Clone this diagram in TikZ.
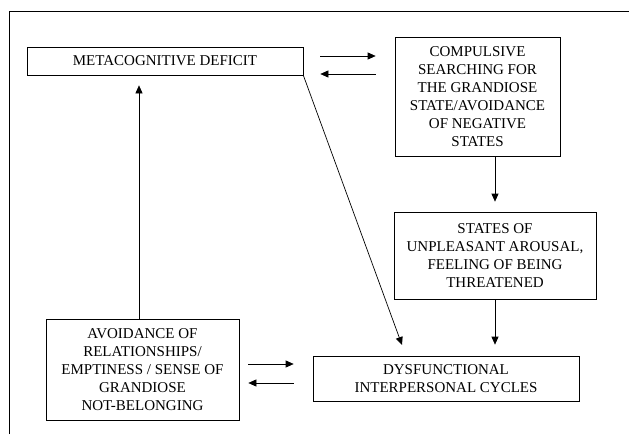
\documentclass[tikz,border=0pt]{standalone}
\usepackage{fontspec}
\setmainfont{Liberation Serif}
\usepackage{tikz}
\usetikzlibrary{arrows.meta}
\tikzset{>={Triangle[width=7pt,length=8pt]}}
\tikzset{blok/.style={draw, line width=0.7pt, align=center, inner sep=0pt,
    font=\fontsize{15}{18}\selectfont}}
\tikzset{pijl/.style={->, line width=0.7pt}}

\begin{document}
\begin{tikzpicture}[x=1pt,y=-1pt]

\useasboundingbox (0,0) rectangle (629,434); %% page size

\draw[line width=0.7pt] (9,434) -- (9,11) -- (629,11); %% frame

\node[blok, minimum width=276pt, minimum height=28pt] (meta) at (165,61)
{METACOGNITIVE DEFICIT};
\node[blok, minimum width=165pt, minimum height=119pt] (comp) at (477.5,96.5)
{COMPULSIVE\\SEARCHING FOR\\THE GRANDIOSE\\STATE/AVOIDANCE\\OF NEGATIVE\\STATES};
\node[blok, minimum width=202pt, minimum height=87pt] (threat) at (495,255.5)
{STATES OF\\UNPLEASANT AROUSAL,\\FEELING OF BEING\\THREATENED};
\node[blok, minimum width=266pt, minimum height=45pt] (dysf) at (446,378.5)
{DYSFUNCTIONAL\\INTERPERSONAL CYCLES};
\node[blok, minimum width=193pt, minimum height=101pt] (avoid) at (142.5,369.5)
{AVOIDANCE OF\\RELATIONSHIPS/\\EMPTINESS / SENSE OF\\GRANDIOSE\\NOT-BELONGING};

\coordinate (diagtip) at (402,345);

%% top pair
\draw[pijl, shorten <=17pt, shorten >=19pt]
([yshift=5pt]meta.east) -- ([yshift=5pt]meta.east -| comp.west);
\draw[pijl, shorten <=19pt, shorten >=17pt]
([yshift=-13pt]meta.east -| comp.west) -- ([yshift=-13pt]meta.east);

%% bottom pair
\draw[pijl, shorten <=9pt, shorten >=19pt]
([yshift=5.5pt]avoid.east) -- ([yshift=5.5pt]avoid.east -| dysf.west);
\draw[pijl, shorten <=19pt, shorten >=9pt]
([yshift=-13.5pt]avoid.east -| dysf.west) -- ([yshift=-13.5pt]avoid.east);

%% downwards
\draw[pijl, shorten >=10pt] (threat.north |- comp.south) -- (threat.north);
\draw[pijl, shorten >=11pt] (threat.south) -- (threat.south |- dysf.north);
\draw[pijl] (meta.south east) -- (diagtip);

%% back up
\draw[pijl, shorten >=10pt] ([xshift=-3.5pt]avoid.north)
-- ([xshift=-3.5pt]avoid.north |- meta.south);

\end{tikzpicture}
\end{document}
